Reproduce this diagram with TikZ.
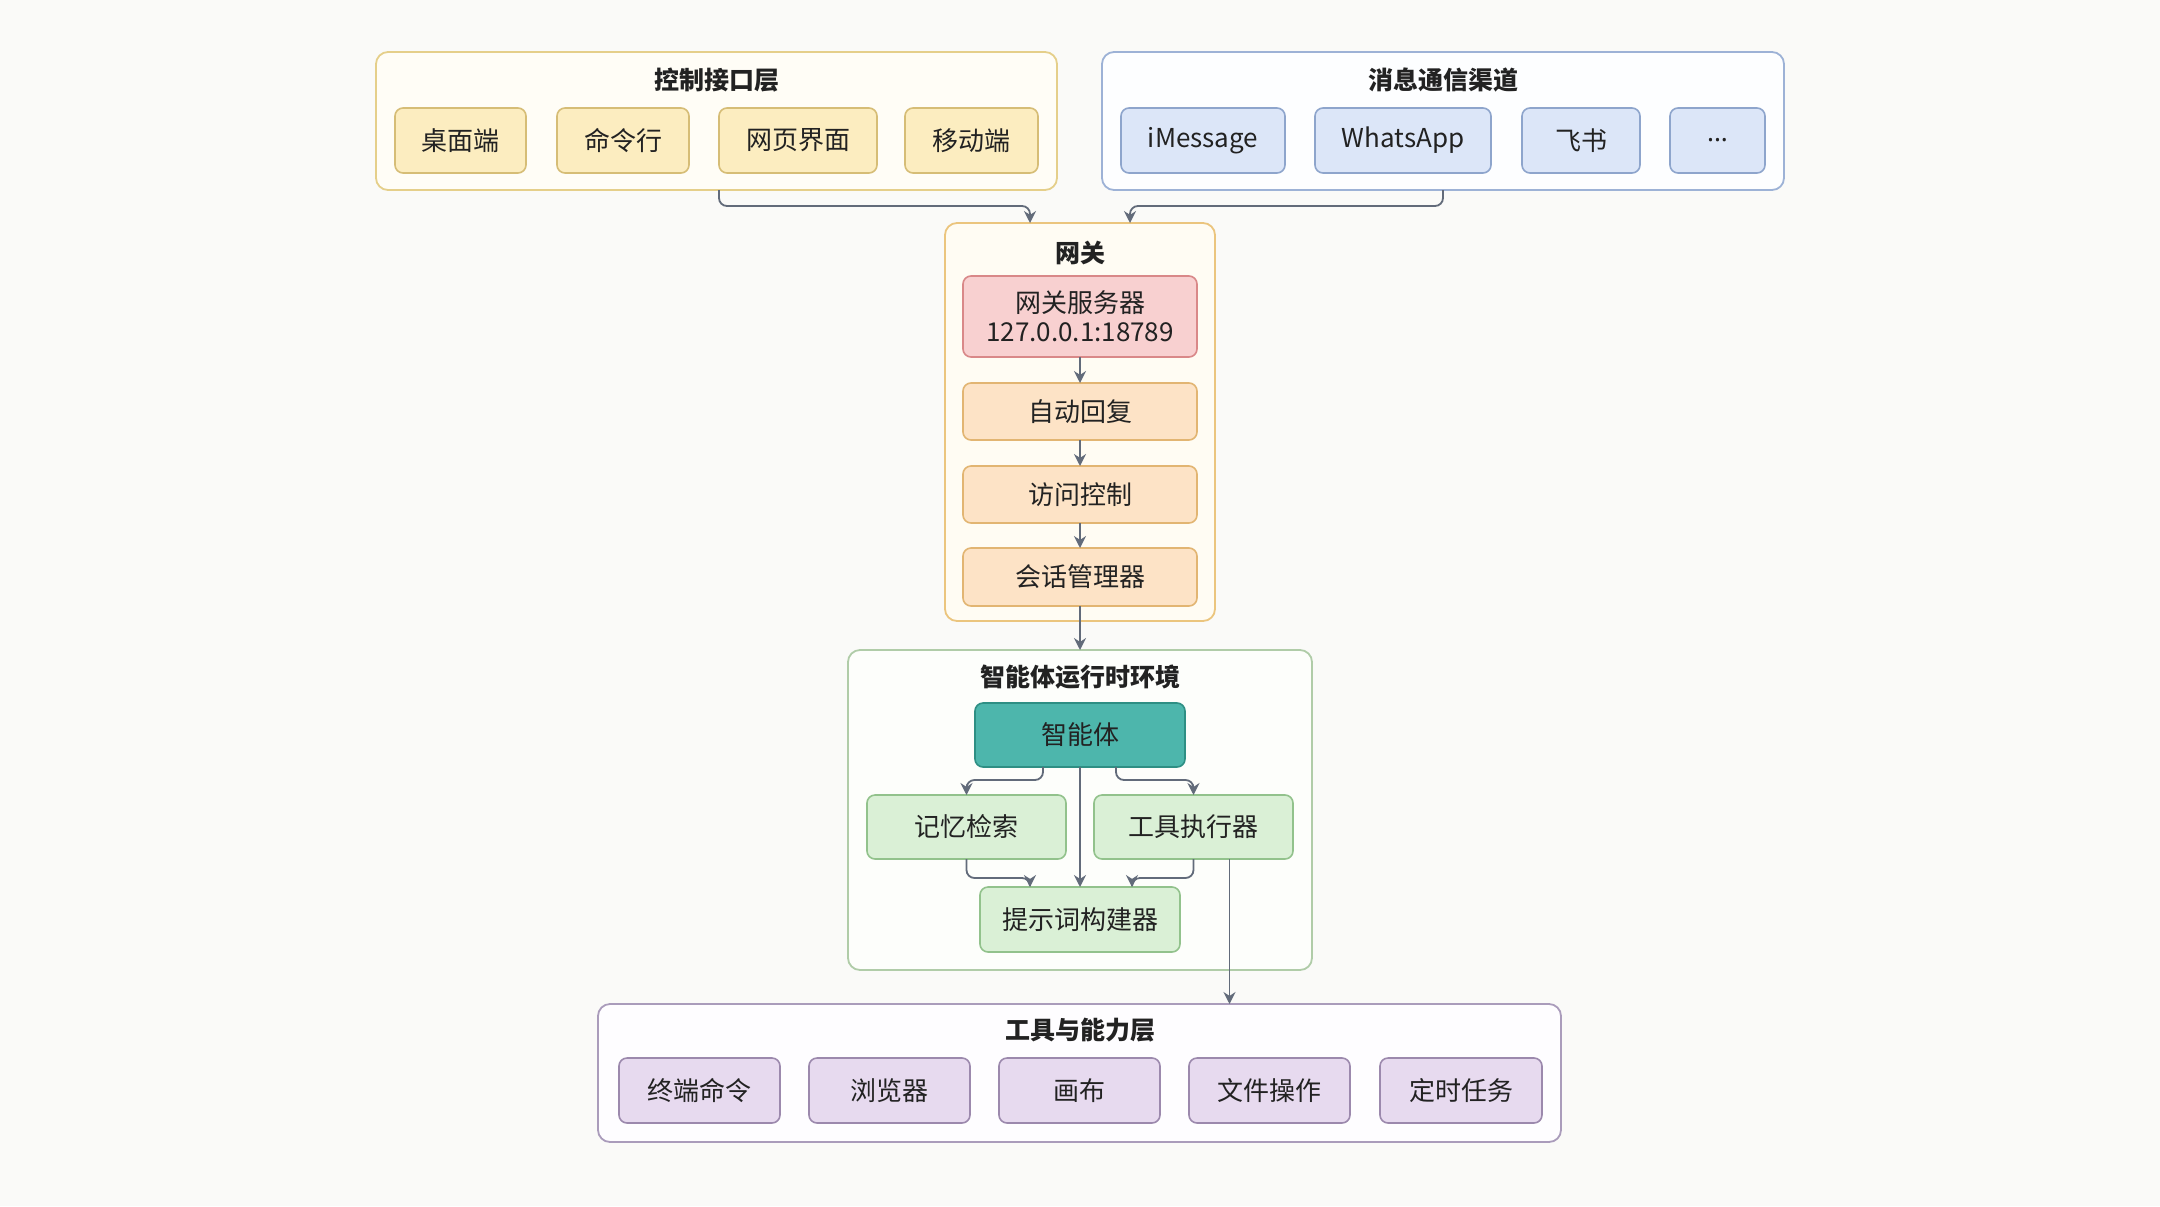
\documentclass[tikz,border=0pt]{standalone}
\usepackage{fontspec}
\setmainfont{Noto Sans CJK SC}
\newfontfamily\latinfont{Noto Sans}
\usepackage{tikz}
\usetikzlibrary{arrows.meta}
\usetikzlibrary{positioning}

\definecolor{pagebg}{HTML}{FAFAF8}
\definecolor{textdark}{HTML}{222222}
\definecolor{arrowgray}{HTML}{626B7A}
\definecolor{ctrlline}{HTML}{E5CF8A}
\definecolor{ctrlbg}{HTML}{FFFDF6}
\definecolor{ctrlfill}{HTML}{FCEDC0}
\definecolor{ctrlbox}{HTML}{D6BD76}
\definecolor{chanline}{HTML}{9DB2D6}
\definecolor{chanbg}{HTML}{FDFEFF}
\definecolor{chanfill}{HTML}{DCE6F8}
\definecolor{chanbox}{HTML}{8EA5CC}
\definecolor{gateline}{HTML}{EBC57E}
\definecolor{gatebg}{HTML}{FFFCF3}
\definecolor{serverfill}{HTML}{F8D0D0}
\definecolor{serverbox}{HTML}{D98888}
\definecolor{gatefill}{HTML}{FDE3C6}
\definecolor{gatebox}{HTML}{E2B572}
\definecolor{agentline}{HTML}{B0CCA8}
\definecolor{agentbg}{HTML}{FDFEFB}
\definecolor{agentfill}{HTML}{4DB6AC}
\definecolor{agentbox}{HTML}{2E8F84}
\definecolor{subfill}{HTML}{DAF0D6}
\definecolor{subbox}{HTML}{92C28C}
\definecolor{toolline}{HTML}{AA9CBB}
\definecolor{toolbg}{HTML}{FEFDFF}
\definecolor{toolfill}{HTML}{E7DAEF}
\definecolor{toolbox}{HTML}{9C89AD}

\begin{document}
\begin{tikzpicture}[x=0.5pt, y=-0.5pt,
        nodes={font=\fontsize{13pt}{14.5pt}\selectfont, text=textdark},
        layer_style/.style={rectangle, rounded corners=6pt, line width=0.9pt, inner sep=0pt, outer sep=0pt},
        title_style/.style={font=\fontsize{12.5pt}{14pt}\selectfont\bfseries},
        item_style/.style={rectangle, rounded corners=4pt, line width=0.8pt, inner sep=0pt, outer sep=0pt,
          minimum height=32.5pt, align=center},
        ctrl_item/.style={item_style, draw=ctrlbox, fill=ctrlfill},
        chan_item/.style={item_style, draw=chanbox, fill=chanfill},
        gate_item/.style={item_style, draw=gatebox, fill=gatefill, minimum width=117pt, minimum height=28.5pt},
        sub_item/.style={item_style, draw=subbox, fill=subfill, minimum height=32pt},
        tool_item/.style={item_style, draw=toolbox, fill=toolfill, minimum width=80.5pt},
        flow_arrow/.style={-{Stealth[length=6pt, width=6pt]}, draw=arrowgray, line width=0.9pt, rounded corners=4pt},
      node distance=15pt]

      \useasboundingbox (0,0) rectangle (2160,1206);
      \fill[pagebg] (0,0) rectangle (2160,1206);

      % layers
      \node[layer_style, draw=ctrlline, fill=ctrlbg, minimum width=340.5pt, minimum height=69pt] (ctrl_layer) at (716.5,121) {};
      \node[layer_style, draw=chanline, fill=chanbg, minimum width=341pt, minimum height=69pt] (chan_layer) at (1443,121) {};
      \node[layer_style, draw=gateline, fill=gatebg, minimum width=135pt, minimum height=199pt] (gateway) at (1080,422) {};
      \node[layer_style, draw=agentline, fill=agentbg, minimum width=232pt, minimum height=160pt] (agent_env) at (1080,810) {};
      \node[layer_style, draw=toolline, fill=toolbg, minimum width=481.5pt, minimum height=69pt] (tools_layer) at (1079.5,1073) {};

      \node[title_style] (ctrl_title) at (716.5,80) {控制接口层};
      \node[title_style] (chan_title) at (1443,80) {消息通信渠道};
      \node[title_style] (gate_title) at (1080,253) {网关};
      \node[title_style] (agent_title) at (1080,677) {智能体运行时环境};
      \node[title_style] (tools_title) at (1080,1030) {工具与能力层};

      % control interfaces
      \node[ctrl_item, minimum width=65.5pt] (desk) at (460.5,140.5) {桌面端};
      \node[ctrl_item, minimum width=66pt, right=15.5pt of desk] (cli) {命令行};
      \node[ctrl_item, minimum width=79pt, right=15pt of cli] (web) {网页界面};
      \node[ctrl_item, minimum width=66.5pt, right=14pt of web] (mobile) {移动端};

      % channels
      \node[chan_item, minimum width=82pt] (imsg) at (1203,140.5) {iMessage};
      \node[chan_item, minimum width=88pt, right=15pt of imsg] (whatsapp) {WhatsApp};
      \node[chan_item, minimum width=59pt, right=15.5pt of whatsapp] (feishu) {飞书};
      \node[chan_item, minimum width=47.5pt, right=15pt of feishu] (more) {\latinfont ...};

      % gateway
      \node[item_style, draw=serverbox, fill=serverfill, minimum width=117pt, minimum height=40.5pt] (server) at (1080,316.5) {网关服务器\\127.0.0.1:18789};
      \node[gate_item, below=13pt of server] (autoreply) {自动回复};
      \node[gate_item, below=13pt of autoreply] (access) {访问控制};
      \node[gate_item, below=12.5pt of access, minimum height=29pt] (session) {会话管理器};

      % agent runtime
      \node[item_style, draw=agentbox, fill=agentfill, minimum width=105pt, minimum height=32pt] (agent) at (1080,735) {智能体};
      \node[sub_item, minimum width=99.5pt] (memory) at (966.5,827) {记忆检索};
      \node[sub_item, minimum width=99.5pt] (toolexec) at (1193.5,827) {工具执行器};
      \node[sub_item, minimum width=100pt, minimum height=32.5pt] (prompt) at (1080,919.5) {提示词构建器};

      % tools
      \node[tool_item] (term) at (699.5,1090.5) {终端命令};
      \node[tool_item, right=14.5pt of term] (browser) {浏览器};
      \node[tool_item, right=14.5pt of browser] (canvas) {画布};
      \node[tool_item, right=14.5pt of canvas] (fileop) {文件操作};
      \node[tool_item, minimum width=81pt, right=15pt of fileop] (cron) {定时任务};

      \coordinate (exec_out) at ([xshift=18pt]toolexec.south);

      \draw[flow_arrow] (ctrl_layer.south -| web.west) -- ++(0,16) -| ([xshift=-25pt]gateway.north);
      \draw[flow_arrow] (chan_layer.south) -- ++(0,16) -| ([xshift=25pt]gateway.north);
      \draw[flow_arrow] (server) -- (autoreply);
      \draw[flow_arrow] (autoreply) -- (access);
      \draw[flow_arrow] (access) -- (session);
      \draw[flow_arrow] (session) -- (agent_env.north);
      \draw[flow_arrow] ([xshift=-18.5pt]agent.south) -- ++(0,13) -| (memory.north);
      \draw[flow_arrow] ([xshift=18pt]agent.south) -- ++(0,13) -| (toolexec.north);
      \draw[flow_arrow] (agent) -- (prompt);
      \draw[flow_arrow] (memory.south) -- ++(0,19) -| ([xshift=-25pt]prompt.north);
      \draw[flow_arrow] (toolexec.south) -- ++(0,19) -| ([xshift=26pt]prompt.north);
      \draw[flow_arrow] (exec_out) -- (exec_out |- tools_layer.north);
    \end{tikzpicture}
\end{document}
